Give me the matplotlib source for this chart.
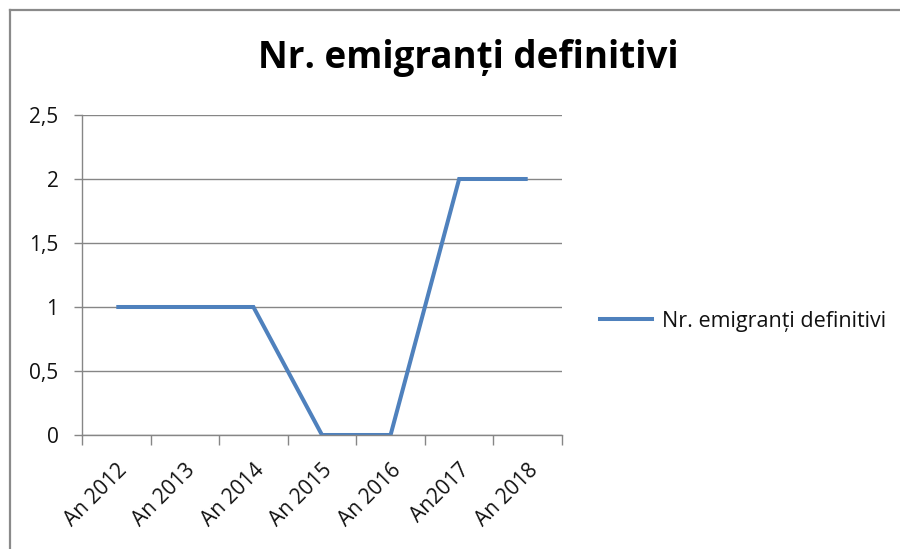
"""Nr. emigranti definitivi, 2012-2018, Excel-style line chart."""

import matplotlib
matplotlib.use("Agg")
import matplotlib.pyplot as plt
from matplotlib.lines import Line2D
from matplotlib.transforms import ScaledTranslation

years = ["An 2012", "An 2013", "An 2014", "An 2015", "An 2016", "An2017", "An 2018"]
emigranti = [1, 1, 1, 0, 0, 2, 2]
y_ticks = [0, 0.5, 1, 1.5, 2, 2.5]
y_tick_labels = ["0", "0,5", "1", "1,5", "2", "2,5"]

TITLE = "Nr. emigranți definitivi"
LINE_COLOR = "#4F81BD"
AXIS_COLOR = "#868686"
TEXT_COLOR = "#111111"
FONT = ["Open Sans", "DejaVu Sans"]

plt.rcParams["font.family"] = FONT

W, H = 900, 549
fig = plt.figure(figsize=(W / 100, H / 100), dpi=100)

# chart frame (only top and left edges are visible in the crop)
fig.add_artist(Line2D([10 / W, 10 / W], [0, 1 - 10 / H], transform=fig.transFigure,
                      color="#8a8a8a", lw=1.6))
fig.add_artist(Line2D([10 / W, 1], [1 - 10 / H, 1 - 10 / H], transform=fig.transFigure,
                      color="#8a8a8a", lw=1.6))

ax = fig.add_axes([82 / W, 114 / H, 480 / W, 320 / H])
x = list(range(len(years)))
ax.plot(x, emigranti, color=LINE_COLOR, lw=2.9, solid_capstyle="butt",
        solid_joinstyle="miter", label=TITLE)

ax.set_xlim(-0.5, len(years) - 0.5)
ax.set_ylim(0, 2.5)
ax.set_yticks(y_ticks)
ax.set_yticklabels(y_tick_labels, fontsize=15, color=TEXT_COLOR)
ax.set_xticks([i - 0.5 for i in range(len(years) + 1)], minor=False)
ax.set_xticklabels([])
ax.set_xticks(x, minor=True)
labels = ax.set_xticklabels(years, minor=True, rotation=45, ha="right", va="top",
                            rotation_mode="anchor", fontsize=15, color=TEXT_COLOR)
shift = ScaledTranslation(-9 / 100, 0, fig.dpi_scale_trans)
for lab in labels:
    lab.set_transform(lab.get_transform() + shift)
ax.tick_params(axis="x", which="major", length=7, width=1, color=AXIS_COLOR)
ax.tick_params(axis="x", which="minor", length=0, pad=18)
ax.tick_params(axis="y", length=6, width=1, color=AXIS_COLOR, pad=11)

ax.grid(axis="y", color=AXIS_COLOR, lw=1)
ax.set_axisbelow(True)
for side in ("top", "right"):
    ax.spines[side].set_visible(False)
for side in ("left", "bottom"):
    ax.spines[side].set_color(AXIS_COLOR)
    ax.spines[side].set_linewidth(1)

fig.text(468 / W, 1 - 58 / H, TITLE, fontsize=26.5, fontweight="bold",
         ha="center", va="center", color="black")

handles = [Line2D([0], [0], color=LINE_COLOR, lw=2.9)]
fig.legend(handles, [TITLE], loc="center left",
           bbox_to_anchor=(600 / W, 1 - 321 / H), frameon=False,
           borderpad=0, borderaxespad=0,
           fontsize=15.5, handlelength=2.4, handletextpad=0.47,
           labelcolor=TEXT_COLOR)

fig.savefig("out.png", dpi=100)
